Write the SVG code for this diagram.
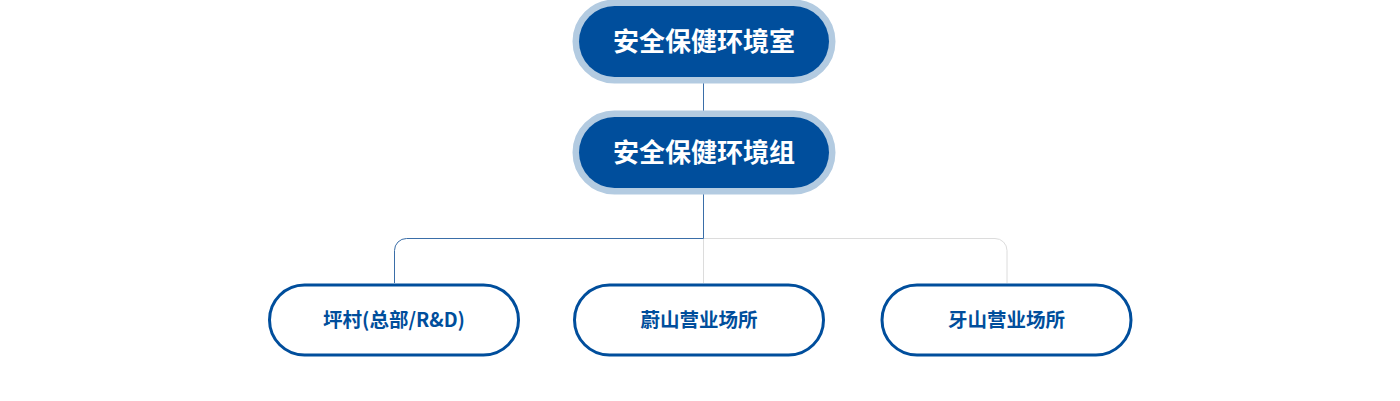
<svg xmlns="http://www.w3.org/2000/svg" width="1400" height="401" viewBox="0 0 1400 401">
<style>
.top rect{fill:#004e9c;stroke:#b3cbe1;stroke-width:13;paint-order:stroke}
.top text{fill:#ffffff;font-family:"Noto Sans CJK SC","Noto Sans",sans-serif;font-weight:700;font-size:26px;text-anchor:middle}
.sub rect{fill:#ffffff;stroke:#004e9c;stroke-width:3}
.sub text{fill:#004e9c;font-family:"Noto Sans CJK SC","Noto Sans",sans-serif;font-weight:700;font-size:19.5px;text-anchor:middle}
.blue{fill:none;stroke:#3a6ea8;stroke-width:1}
.gray{fill:none;stroke:#dcdcdc;stroke-width:1}
</style>
<rect width="1400" height="401" fill="#ffffff"/>
<g id="connectors">
<path class="gray" d="M703.5 238.5 H995 A12 12 0 0 1 1007 250.5 V283"/>
<path class="gray" d="M703.5 238.5 V283"/>
<path class="blue" d="M703.5 77 V117"/>
<path class="blue" d="M703.5 188 V238.5 H406.5 A12 12 0 0 0 394.5 250.5 V283"/>
</g>
<g id="node-office" class="top">
<rect x="579" y="6" width="250" height="71" rx="35.5"/>
<text x="704" y="51">安全保健环境室</text>
</g>
<g id="node-group" class="top">
<rect x="579" y="117" width="250" height="71" rx="35.5"/>
<text x="704" y="162">安全保健环境组</text>
</g>
<g id="node-pyeongtaek" class="sub">
<rect x="269.5" y="285" width="249" height="70" rx="35"/>
<text x="394" y="326.5">坪村(总部/R&amp;D)</text>
</g>
<g id="node-ulsan" class="sub">
<rect x="574.5" y="285" width="249" height="70" rx="35"/>
<text x="699" y="326.5">蔚山营业场所</text>
</g>
<g id="node-asan" class="sub">
<rect x="882" y="285" width="249" height="70" rx="35"/>
<text x="1006.5" y="326.5">牙山营业场所</text>
</g>
</svg>
